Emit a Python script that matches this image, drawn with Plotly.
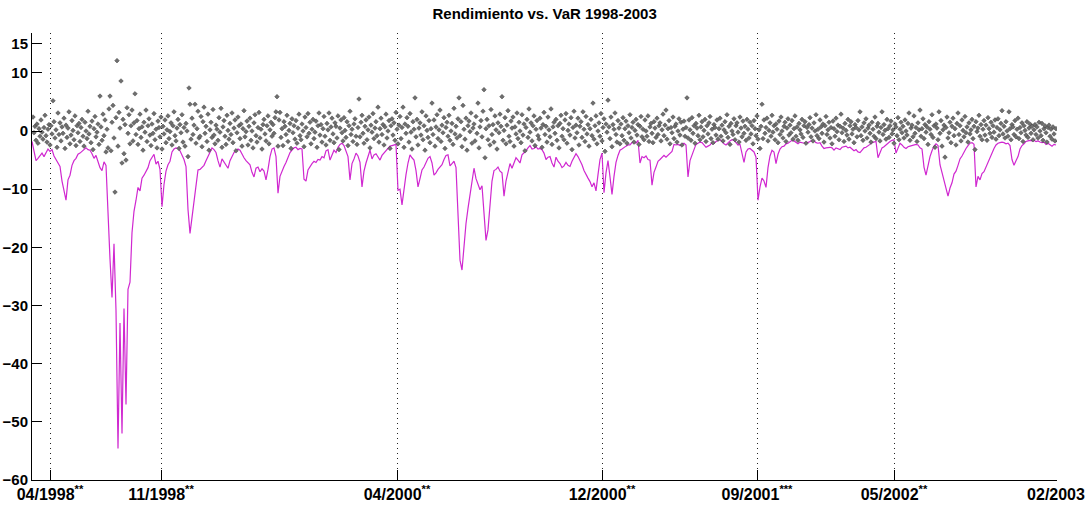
import numpy as np
import plotly.graph_objects as go

# Daily returns (%), one observation per trading day
rendimiento = [
    2.4, -0.3, 0.8, -1.6, 1.2, -2.1, 0.4, -0.9, 1.9, -0.2, -1.4, 0.6, 2.7, -0.8, -1.9,
    0.3, 1.1, -2.4, 0.9, -0.5, 5.2, 1.6, -1.2, 0.2, -2.8, 3.1, -0.6, 1.4, -1.7, 0.7,
    -0.4, 2.2, -3.0, 1.0, -1.1, 0.5, 3.3, -2.2, -0.7, 1.8, 0.1, -1.5, 2.6, -2.5, 0.9,
    -0.3, 1.3, -1.8, 0.6, 2.0, -0.9, -2.6, 1.5, 0.0, -1.3, 3.4, -0.5, 0.8, -2.0, 1.7,
    -3.2, 0.4, 2.5, -1.0, -0.2, 1.2, -2.3, 6.0, 0.7, -1.6, 2.9, -0.8, 1.9, -3.6, 0.3,
    -2.9, 3.8, 6.0, -3.4, 1.5, 4.4, -1.2, -10.5, 2.3, 12.1, -2.6, 3.2, 0.5, 8.6,
    -5.5, 2.0, -3.9, 1.1, -5.0, 4.0, -0.4, 2.8, -2.2, 0.9, 3.6, -1.7, 1.4, 6.4,
    -0.6, 1.8, -2.3, 0.4, 2.9, -1.1, 0.7, -3.3, 1.5, -0.2, 3.6, -1.8, 0.9, 2.1, -0.7, -2.5,
    1.2, -0.4, 3.0, -1.5, 0.3, -2.9, 1.7, 0.6, -1.0, 2.4, -3.1, 0.8, -0.5, 1.9, -2.0, 0.2,
    2.6, -1.3, -0.1, 1.4, -2.4, 0.9, 3.3, -0.8, -1.7, 0.5, 2.0, -3.0, 1.1, -0.3, 2.8, -1.9,
    0.6, -2.6, 1.3, 0.0, -4.4, 7.4, 4.6, -1.4, 2.2, -0.6, 1.0, 4.6, -2.1, 0.4, 3.4, -1.2,
    -0.9, 2.5, -2.7, 1.6, 4.1, -0.4, 0.8, -1.8, 2.9, -3.3, 0.2, 1.5, -1.1, 3.7, -0.7, -2.2,
    1.0, 0.3, -1.6, 2.3, -0.2, 3.9, -2.8, 0.7, 1.8, -0.9, -2.3, 2.7, 0.1, -1.4, 1.3, -0.6,
    3.1, -2.0, 0.5, 1.9, -3.4, -0.3, 2.4, 0.9, -1.3, 1.2, -2.6, 0.4, 3.5, -1.0, -0.1, 1.7,
    -2.4, 0.8, 2.2, -1.6, 0.0, -2.9, 1.4, 2.8, -0.8, -1.9, 0.6, 3.2, -1.2, 0.3, -3.1, 1.1,
    2.0, -0.5, -1.7, 0.9, 2.6, -2.2, 0.2, 1.5, -0.9, 1.1, -0.4, 2.3, 3.3, 5.9, -2.6, 1.9,
    3.2, -1.1, 0.4, -2.5, 1.6, 0.8, -0.6, 2.7, -1.8, 0.1, 1.3, -3.0, 2.1, -0.3, 0.9, -1.4,
    1.8, -2.1, 0.5, 2.9, -0.8, -1.5, 1.2, 0.0, -2.7, 2.4, 0.6, -1.0, 3.0, -0.4, 1.5, -2.2,
    0.3, 2.0, -1.3, -0.2, 1.7, -2.8, 0.9, 3.1, -0.7, 1.1, -1.9, 0.4, 2.5, -0.9, -2.4, 1.3,
    0.2, 3.1, -1.6, 0.7, 2.2, -0.5, -2.0, 1.4, 0.8, -1.2, 2.6, -3.2, 0.5, 1.9, -0.3, -1.7,
    2.3, 0.1, -1.1, 1.6, -2.5, 0.9, 3.4, -0.6, 0.3, -1.8, 1.2, 2.1, -0.9, -2.3, 0.6, 5.5,
    -1.0, 1.5, 2.7, -0.4, -2.1, 0.8, 1.9, -1.5, 0.2, 2.4, -2.9, 1.0, -0.2, 3.0, -1.3, 0.5,
    1.6, -0.8, 4.1, -1.9, 0.4, 2.2, -0.6, 1.1, -2.4, 0.7, 2.9, -1.2, 0.0, 1.8, -3.0, 0.9,
    2.1, -0.7, 1.4, -1.6, 3.2, 0.3, -2.2, 1.0, 2.5,
    -1.3, 0.6, 4.1, -2.8, 1.2, -0.4, 2.3, 0.8, -1.9, 3.0, -0.2, -3.1, 1.6, 0.3, 5.7, -1.0,
    2.0, -2.4, 0.5, 1.4, -0.7, 3.3, -1.5, 0.9, -3.3, 2.6, 0.1, -1.1, 1.8, -2.0, 0.4, 4.8,
    -0.6, 1.9, -2.6, 0.7, 2.8, -1.3, 0.2, 3.6, -1.8, 1.0, -0.3, 2.3, -3.0, 0.6, 1.5, -0.9,
    2.7, -1.6, 0.0, 1.3, -2.3, 3.9, -0.5, 0.8, -1.2, 2.1, 5.7, -0.8, 1.6, -2.7, 4.4, 0.3,
    -1.4, 2.2, -3.3, 0.9, 1.7, -0.1, 3.1, -2.1, 0.5, 1.2, -1.7, 2.5, -0.4, 4.8, -2.9, 0.7,
    1.8, -1.0, 3.4, 7.1, -4.6, 0.4, 2.0, -1.5, 0.9, -2.4, 3.7, -0.6, 1.1, -1.9, 2.6, 0.2,
    -3.1, 1.4, -0.3, 2.9, 0.8, 5.9, -1.6, 0.1, 2.3, -2.2, 1.0, 3.5, -0.9, -1.8, 1.7, 0.5,
    2.4, -2.6, 0.7, -0.5, 3.1, -1.3, 1.5, 0.0, -2.0, 2.8, -0.7, 1.2, -3.4, 0.6, 2.0, -1.1,
    3.8, -0.2, 1.4, -1.7, 0.9, 2.6, -2.5, 0.3, 1.8, -0.8, -1.4, 2.2, 0.5, -2.8, 1.1, 3.2,
    -0.6, 0.8, -1.9, 2.4, 0.2, -1.0, 3.8, -2.3, 0.7, 1.5, -0.4, 2.0, -1.6, 0.9, -2.9, 1.3,
    2.7, -0.9, 0.4, -1.5, 1.9, 3.0, -2.1, 0.1, 1.2, -0.7, 2.3, -3.2, 0.6, 3.4, -1.2, 1.0,
    -0.3, 2.2, -2.4, 0.8, 1.6, -1.1, 3.3, 0.3, -1.8, 2.5, -0.5, 1.1, -2.6, 0.4, 2.0, -0.8,
    4.8, -1.4, 0.9, 2.6, -2.2, 0.0, 1.4, -0.9, 3.0, -1.7, 0.6, 2.1, -3.5, 1.2, -0.2, 5.3,
    0.7, -1.3, 2.4, -2.7, 1.1, 0.3, 3.1, -0.6, -1.9, 1.8, 0.5, -2.2,
    1.2, -0.8, 2.3, -1.6, 0.4, 1.7, -2.1, 0.9, -0.3, 2.8, -1.2, 0.6, 1.5, -1.9, 0.1, 2.0,
    -0.7, 1.1, -2.3, 0.8, 2.5, -1.0, 0.3, -1.5, 1.9, 0.0, -0.9, 2.6, -1.8, 0.7, 1.3, -0.4,
    -2.0, 1.6, 0.5, -1.1, 2.2, -0.6, 0.9, 1.4, -1.7, 0.2, 2.9, -0.8, 1.0, 3.6, -1.4, 0.4,
    1.8, -2.2, 0.6, -0.3, 2.4, -1.3, 0.8, 1.2, -1.9, 0.0, 2.1, -0.7, 1.5, -2.4, 0.3, 1.7,
    -0.9, 0.6, 5.7, -1.2, 1.9, 0.2, -1.6, 2.3, -0.4, 0.9, -2.1, 1.3, 0.5, -0.8, 2.7, -1.5,
    0.7, 1.6, -1.0, 0.1, 2.0, -1.8, 0.9, -0.5, 1.4, 2.5, -1.3, 0.3, -2.0, 1.1, 0.6, -0.7,
    1.9, -1.4, 0.4, 2.2, -0.9, 1.0, -1.7, 0.2, 1.6, -0.3, 2.8, -1.1, 0.8, -2.3, 1.3, 0.0,
    -0.6, 2.1, -1.5, 0.9, 1.4, -0.2, -1.9, 2.4, 0.5, -1.0, 1.7, -0.4, 0.8, -1.6, 2.0, 0.3,
    -1.2, 1.5, -0.5, 0.9, -2.2, 1.8, 0.4, -0.8, 2.6, -1.4, 0.2, -3.0,
    0.8, 4.6, -1.3, 1.9, -0.4, 0.6, 2.2, -1.7, 0.1, 1.4, -0.9, 2.7, -0.2, 0.9, -1.5, 1.2,
    0.3, -2.0, 1.7, -0.6, 2.4, 0.0, -1.2, 0.8, 1.5, -1.8, 0.5, 2.1, -0.7, 1.0, -0.3, 1.8,
    -1.4, 0.4, 2.6, -0.9, 0.7, -1.6, 1.3, 0.2, -0.5, 2.0, -1.1, 0.9, 1.6, -2.1, 0.6, -0.2,
    1.1, 2.3, -1.0, 0.5, -1.7, 1.4, 0.0, 2.8, -0.8, 0.3, -1.3, 1.9, 0.7, -0.4, 1.2, -1.9,
    0.9, 2.5, -0.6, 0.2, 1.5, -1.2, 0.6, -2.2, 1.7, 0.4, -0.9, 2.2, -0.1, 1.0, -1.5, 0.8,
    2.9, -0.3, 0.5, -1.8, 1.3, 0.1, -0.7, 2.0, -1.4, 0.9, 1.6, -0.5, 0.3, -2.0, 1.1, 0.6,
    -1.0, 1.8, 0.2, 3.3, -0.8, 0.7, -1.6, 1.4, 0.0, 2.1, -1.2, 0.5, 1.0, -0.4, -1.9, 1.5,
    0.3, -0.9, 2.4, -1.3, 0.8, 1.3, -0.2, -1.7, 0.6, 3.3, -0.6, 1.1, 0.1, -1.4, 2.0, 0.4,
    -1.1, 0.9, 1.7, -0.5, 0.2, -2.1, 1.2, 0.7, -0.8, 2.3, -1.5, 0.3, 1.5, -0.3, 0.8, -1.2,
    1.9, 0.0, -0.7, 1.3, 3.1, -1.6, 0.5, 1.0, -1.0, 2.6, -0.4, 0.6, -1.8, 1.4, 0.2, 3.6,
    -0.9, 0.4, 2.1, -1.3, 1.1, -0.2, 0.7, -2.3, 1.6, 0.3, -0.6, 2.8, -1.1, 0.9, -2.8, 1.2,
    0.5, -1.5, 3.3, -0.4, 1.8, -2.6, 0.2, 1.0, -4.5, 0.6, 2.4, -1.2, -0.3, 1.5, -2.0, 0.8,
    2.2, -0.8, 0.4, -2.4, 1.3, 3.1, -0.6, 0.9, -1.7, 1.9, 0.1, -1.0, 2.5, -0.3, 0.7, -1.9,
    1.4, -0.5, 0.2, 2.0, -1.3, 0.8, -3.2, 1.6, -0.1, 0.5, 2.7, -0.9, 1.1, -1.5, 0.3, 1.8,
    -0.7, 1.0, -1.6, 2.3, 0.4, -0.4, 1.5, -1.1, 0.9, -0.2, 1.9, -1.4, 0.6, 2.1, -0.8, 0.2,
    1.3, 3.5, -0.5, 0.8, -1.2, 1.6, 0.0, -0.9, 3.3, 0.4, -1.5, 1.1, 0.7, -0.6, 1.8, -1.0,
    0.3, 2.2, -1.3, 0.6, -0.3, 1.4, -1.8, 0.9, 0.1, -0.7, 1.6, -1.1, 0.5, 1.2, -0.4, 0.8,
    -1.5, 0.2, 1.1, -0.6, 0.7, -1.2, 1.5, 0.0, -0.8, 1.3, -1.6, 0.4, 0.9, -0.3, -1.9, 0.6,
    1.0, -0.9, 0.3, -1.4, 0.7, -0.5, -1.7, 0.4,
]

# Value at Risk (%), sampled every second trading day
var = [
    -1.8, -3.6, -5.1, -4.7, -4.3, -3.8, -4.4, -3.6, -3.1, -3.5, -3.2, -4.3, -4.9, -5.4, -6.1, -8.6,
    -10.5, -11.9, -8.4, -7.6, -5.9, -5.1, -4.7, -4.0, -3.8, -3.5, -3.1, -2.9, -3.2, -3.3, -3.9, -4.7,
    -4.2, -5.5, -6.3, -6.8, -5.3, -5.9, -15.3, -22.0, -28.6, -19.4, -30.8, -54.6, -33.0, -52.0, -30.5, -47.0,
    -27.2, -26.0, -17.5, -13.8, -11.9, -9.7, -10.3, -8.1, -7.6, -6.9, -6.3, -5.1, -4.6, -4.0, -5.7, -5.2,
    -6.6, -13.0, -9.2, -6.9, -5.8, -5.2, -3.6, -3.1, -2.9, -3.0, -3.4, -4.2, -4.9, -6.1, -13.5, -17.6,
    -14.8, -12.4, -9.6, -6.7, -6.6, -6.2, -5.9, -5.1, -4.4, -3.6, -2.9, -3.2, -3.7, -5.1, -6.2, -4.8,
    -5.4, -6.0, -6.4, -5.1, -4.4, -3.7, -3.4, -3.1, -3.3, -4.0, -4.6, -5.1, -5.4, -5.8, -7.1, -7.9,
    -6.4, -6.2, -7.0, -6.5, -6.9, -8.4, -6.6, -4.4, -3.1, -2.9, -4.4, -10.7, -7.8, -6.8, -6.1, -5.4,
    -4.6, -3.7, -3.3, -2.9, -2.8, -3.2, -3.0, -3.1, -8.3, -8.6, -6.7, -6.1, -5.6, -5.2, -5.4, -4.9,
    -5.0, -4.4, -4.6, -3.4, -3.2, -5.0, -4.1, -3.3, -3.7, -2.8, -2.3, -2.1, -2.5, -3.3, -4.4, -8.4,
    -5.6, -4.8, -3.8, -4.3, -5.4, -9.6, -6.9, -5.5, -4.2, -3.3, -4.8, -4.1, -3.9, -4.4, -5.0, -4.2,
    -3.8, -3.4, -3.0, -2.6, -2.5, -2.4, -2.3, -10.2, -10.0, -12.7, -9.5, -7.5, -5.5, -4.1, -4.6, -5.0,
    -6.8, -9.6, -8.2, -6.7, -6.2, -5.3, -4.7, -4.4, -5.5, -7.6, -7.2, -6.6, -6.2, -5.8, -4.9, -4.2,
    -4.1, -6.0, -5.6, -5.2, -6.3, -14.8, -22.2, -23.9, -19.0, -15.9, -13.3, -10.8, -8.1, -6.4, -8.2, -9.3,
    -10.1, -9.4, -14.6, -18.8, -17.0, -12.1, -8.6, -6.8, -6.6, -6.2, -6.9, -7.2, -11.2, -8.6, -7.1, -5.6,
    -6.4, -5.3, -4.6, -5.0, -5.5, -4.1, -3.8, -3.4, -2.9, -2.5, -3.1, -3.0, -2.7, -3.1, -3.0, -3.2,
    -3.8, -4.9, -4.5, -4.4, -5.5, -6.2, -4.5, -5.2, -5.6, -6.3, -6.0, -5.4, -5.9, -6.1, -5.2, -4.6,
    -3.9, -4.4, -5.1, -5.8, -6.8, -7.6, -8.1, -8.7, -9.6, -8.9, -10.3, -7.5, -4.9, -3.8, -10.6, -7.2,
    -5.1, -7.9, -10.9, -7.8, -5.4, -4.2, -3.3, -3.1, -2.8, -2.6, -2.4, -2.4, -2.0, -1.9, -2.1, -1.6,
    -5.5, -4.4, -4.6, -4.3, -4.9, -5.0, -9.3, -7.1, -6.2, -5.2, -4.9, -4.6, -4.2, -4.5, -4.2, -3.9,
    -3.5, -2.3, -2.4, -2.3, -2.5, -2.3, -2.1, -2.4, -7.9, -5.1, -4.0, -3.2, -2.3, -2.1, -1.9, -2.0,
    -2.4, -2.8, -2.6, -2.4, -2.0, -2.1, -1.8, -1.6, -1.5, -1.8, -2.2, -2.4, -2.0, -1.7, -1.5, -1.6,
    -2.0, -2.4, -2.3, -3.8, -5.4, -3.6, -3.1, -3.0, -3.3, -3.6, -4.5, -11.9, -9.6, -8.1, -8.6, -9.7,
    -6.3, -4.3, -3.3, -3.6, -5.6, -4.0, -3.1, -2.7, -2.6, -2.2, -2.1, -1.8, -1.6, -1.7, -2.0, -2.2,
    -1.9, -2.0, -2.1, -1.9, -2.0, -1.8, -1.6, -1.7, -2.0, -2.1, -2.0, -2.6, -3.0, -2.9, -2.8, -2.8,
    -2.9, -3.3, -2.9, -3.0, -3.2, -2.8, -2.7, -2.6, -2.9, -2.8, -3.1, -3.4, -3.2, -3.6, -3.7, -3.3,
    -2.9, -2.8, -2.6, -2.3, -2.0, -1.9, -1.8, -4.6, -3.6, -2.9, -2.7, -2.4, -2.0, -1.8, -1.6, -1.5,
    -3.8, -2.9, -2.1, -2.4, -2.8, -3.0, -2.7, -2.6, -2.5, -2.4, -2.3, -2.4, -2.9, -3.1, -6.2, -7.6,
    -5.8, -4.4, -3.4, -2.6, -2.2, -2.5, -5.8, -7.1, -8.7, -9.7, -11.2, -9.8, -8.9, -7.4, -6.9, -5.9,
    -4.8, -4.3, -3.6, -3.0, -2.5, -2.1, -2.0, -2.3, -9.6, -7.8, -8.4, -7.3, -7.0, -6.2, -5.1, -4.3,
    -3.8, -3.0, -2.4, -2.1, -2.0, -1.9, -2.0, -2.2, -2.1, -2.5, -4.9, -5.9, -5.1, -4.4, -3.1, -2.5,
    -2.2, -1.8, -1.7, -1.6, -1.7, -1.6, -1.8, -1.7, -1.9, -2.0, -1.9, -2.3, -2.1, -2.4, -2.6, -2.3,
    -2.4,
]

# Axis labels
tick_pos = [18, 129, 365, 570, 725, 862, 1024]
tick_text = ["04/1998<sup>**</sup>", "11/1998<sup>**</sup>", "04/2000<sup>**</sup>",
             "12/2000<sup>**</sup>", "09/2001<sup>***</sup>", "05/2002<sup>**</sup>", "02/2003"]
y_ticks = [-60, -50, -40, -30, -20, -10, 0, 10, 15]

ret_x = np.arange(1, len(rendimiento) + 1)
var_x = np.arange(0, 2 * len(var), 2)

font_family = "Liberation Sans, Arial, sans-serif"

fig = go.Figure()
fig.add_trace(go.Scatter(
    x=var_x, y=var, mode="lines",
    line=dict(color="rgb(208,40,208)", width=1.2),
    showlegend=False, hoverinfo="skip",
))
fig.add_trace(go.Scatter(
    x=ret_x, y=rendimiento, mode="markers",
    marker=dict(symbol="diamond", size=3.6, color="#6e6e6e",
                line=dict(color="#2a2a2a", width=0.4)),
    showlegend=False, hoverinfo="skip",
))

fig.update_layout(
    width=1086, height=506,
    margin=dict(l=32, r=29, t=33, b=26, pad=0),
    paper_bgcolor="white", plot_bgcolor="white",
    font=dict(family=font_family, size=15, color="black"),
    title=dict(text="<b>Rendimiento vs. VaR 1998-2003</b>", x=0.5015, xanchor="center",
               y=1 - 14 / 506, yanchor="middle", automargin=False,
               font=dict(family=font_family, size=15, color="black")),
    xaxis=dict(
        range=[0, 1025], tickmode="array", tickvals=tick_pos, ticktext=tick_text,
        ticks="inside", ticklen=10, tickwidth=1, tickcolor="black",
        showline=True, linecolor="black", linewidth=1,
        showgrid=True, gridcolor="#222222", griddash="1px,4px", gridwidth=1,
        zeroline=False, automargin=False,
        tickfont=dict(family=font_family, size=16, color="black", weight="bold"),
    ),
    yaxis=dict(
        range=[-60, 16.85], tickmode="array", tickvals=y_ticks,
        ticks="inside", ticklen=10, tickwidth=1, tickcolor="black",
        showline=True, linecolor="black", linewidth=1,
        showgrid=False, zeroline=False, automargin=False,
        tickfont=dict(family=font_family, size=15, color="black", weight="bold"),
    ),
)

fig.write_html("out.html")
